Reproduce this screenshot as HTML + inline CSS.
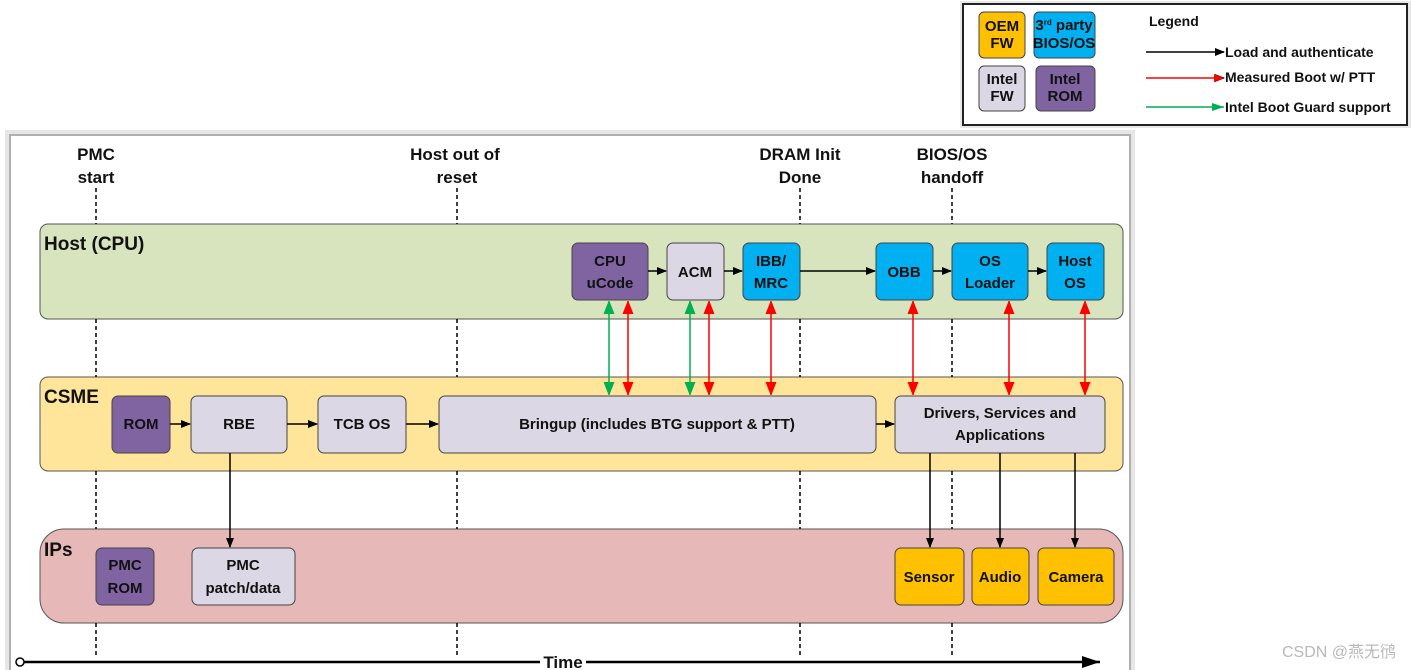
<!DOCTYPE html>
<html><head><meta charset="utf-8"><style>
html,body{margin:0;padding:0;background:#fff;width:1412px;height:670px;overflow:hidden}
svg{display:block}
.b{font-family:"Liberation Sans",sans-serif;font-weight:bold;fill:#111}
.bx{font-family:"Liberation Sans",sans-serif;font-weight:bold;fill:#111;font-size:15px;text-anchor:middle}
</style></head><body>
<svg width="1412" height="670" viewBox="0 0 1412 670" xmlns="http://www.w3.org/2000/svg">
<defs>
<marker id="ak" markerWidth="10" markerHeight="10" refX="9" refY="5" orient="auto" markerUnits="userSpaceOnUse"><path d="M0,1 L10,5 L0,9 z" fill="#000"/></marker>
<marker id="ar" markerWidth="12" markerHeight="14" refX="13" refY="7" orient="auto-start-reverse" markerUnits="userSpaceOnUse"><path d="M0,1.5 L14,7 L0,12.5 z" fill="#ff0000"/></marker>
<marker id="ag" markerWidth="12" markerHeight="14" refX="13" refY="7" orient="auto-start-reverse" markerUnits="userSpaceOnUse"><path d="M0,1.5 L14,7 L0,12.5 z" fill="#00b050"/></marker>
<marker id="at" markerWidth="20" markerHeight="14" refX="18" refY="7" orient="auto" markerUnits="userSpaceOnUse"><path d="M0,1 L18,7 L0,13 z" fill="#000"/></marker>
</defs>
<!-- panel -->
<rect x="5" y="130" width="1130" height="545" fill="#e6e6e6"/>
<rect x="10" y="135" width="1120" height="540" fill="#fff" stroke="#b0b0b0" stroke-width="2"/>
<!-- legend -->
<rect x="960" y="1" width="451" height="127" fill="#e8e8e8"/>
<rect x="963" y="4" width="444" height="121" fill="#fff" stroke="#222" stroke-width="2"/>
<rect x="979" y="12" width="46" height="46" rx="5" fill="#ffc000" stroke="#444"/>
<text class="bx" x="1002" y="31" font-size="12">OEM</text><text class="bx" x="1002" y="48" font-size="12">FW</text>
<rect x="1034" y="12" width="61" height="46" rx="5" fill="#00b0f0" stroke="#444"/>
<text class="bx" x="1064" y="30" font-size="12">3<tspan font-size="8" dy="-5">rd</tspan><tspan dy="5"> party</tspan></text><text class="bx" x="1064" y="48" font-size="12">BIOS/OS</text>
<rect x="979" y="66" width="46" height="45" rx="5" fill="#dcd7e4" stroke="#444"/>
<text class="bx" x="1002" y="84" font-size="12">Intel</text><text class="bx" x="1002" y="101" font-size="12">FW</text>
<rect x="1036" y="66" width="59" height="45" rx="5" fill="#8064a2" stroke="#444"/>
<text class="bx" x="1065" y="84" font-size="12">Intel</text><text class="bx" x="1065" y="101" font-size="12">ROM</text>
<text class="b" x="1149" y="26" font-size="14">Legend</text>
<line x1="1146" y1="52" x2="1224" y2="52" stroke="#000" stroke-width="1.5" marker-end="url(#ak)"/>
<text class="b" x="1225" y="57" font-size="14">Load and  authenticate</text>
<line x1="1146" y1="78" x2="1224" y2="78" stroke="#f00" stroke-width="1.5" marker-end="url(#ak)"/>
<path d="M1214,74 L1224,78 L1214,82 z" fill="#f00"/>
<text class="b" x="1225" y="82" font-size="14">Measured Boot w/ PTT</text>
<line x1="1146" y1="107" x2="1224" y2="107" stroke="#00b050" stroke-width="1.5"/>
<path d="M1212,103 L1224,107 L1212,111 z" fill="#00b050"/>
<text class="b" x="1225" y="112" font-size="14">Intel Boot Guard support</text>
<!-- milestones -->
<g class="b" font-size="17" text-anchor="middle">
<text x="96" y="160">PMC</text><text x="96" y="183">start</text>
<text x="455" y="160">Host out of</text><text x="457" y="183">reset</text>
<text x="800" y="160">DRAM Init</text><text x="800" y="183">Done</text>
<text x="952" y="160">BIOS/OS</text><text x="952" y="183">handoff</text>
</g>
<!-- lanes -->
<rect x="40" y="224" width="1083" height="95" rx="8" fill="#d7e4bd" stroke="#555"/>
<rect x="40" y="377" width="1083" height="94" rx="8" fill="#fee599" stroke="#555"/>
<rect x="40" y="529" width="1083" height="94" rx="24" fill="#e6b9b8" stroke="#555"/>
<!-- dashed -->
<g stroke="#000" stroke-width="1.5" stroke-dasharray="4,3">
<line x1="96" y1="188" x2="96" y2="224"/><line x1="96" y1="319" x2="96" y2="377"/><line x1="96" y1="471" x2="96" y2="529"/><line x1="96" y1="623" x2="96" y2="656"/>
<line x1="457" y1="188" x2="457" y2="224"/><line x1="457" y1="319" x2="457" y2="377"/><line x1="457" y1="471" x2="457" y2="529"/><line x1="457" y1="623" x2="457" y2="656"/>
<line x1="800" y1="188" x2="800" y2="224"/><line x1="800" y1="319" x2="800" y2="377"/><line x1="800" y1="471" x2="800" y2="529"/><line x1="800" y1="623" x2="800" y2="656"/>
<line x1="952" y1="188" x2="952" y2="224"/><line x1="952" y1="319" x2="952" y2="377"/><line x1="952" y1="471" x2="952" y2="529"/><line x1="952" y1="623" x2="952" y2="656"/>
</g>
<g class="b" font-size="19"><text x="44" y="250">Host (CPU)</text><text x="44" y="403">CSME</text><text x="44" y="556">IPs</text></g>
<!-- host boxes -->
<g stroke="#444" stroke-width="1">
<rect x="572" y="243" width="76" height="57" rx="6" fill="#8064a2"/>
<rect x="667" y="243" width="57" height="57" rx="6" fill="#dcd7e4"/>
<rect x="743" y="243" width="57" height="57" rx="6" fill="#00b0f0"/>
<rect x="876" y="243" width="57" height="57" rx="6" fill="#00b0f0"/>
<rect x="952" y="243" width="76" height="57" rx="6" fill="#00b0f0"/>
<rect x="1047" y="243" width="57" height="57" rx="6" fill="#00b0f0"/>
<rect x="112" y="396" width="58" height="57" rx="6" fill="#8064a2"/>
<rect x="191" y="396" width="96" height="57" rx="6" fill="#dcd7e4"/>
<rect x="318" y="396" width="88" height="57" rx="6" fill="#dcd7e4"/>
<rect x="439" y="396" width="437" height="57" rx="6" fill="#dcd7e4"/>
<rect x="895" y="396" width="210" height="57" rx="6" fill="#dcd7e4"/>
<rect x="96" y="548" width="58" height="57" rx="6" fill="#8064a2"/>
<rect x="192" y="548" width="103" height="57" rx="6" fill="#dcd7e4"/>
<rect x="895" y="548" width="69" height="57" rx="6" fill="#ffc000"/>
<rect x="972" y="548" width="57" height="57" rx="6" fill="#ffc000"/>
<rect x="1038" y="548" width="76" height="57" rx="6" fill="#ffc000"/>
</g>
<g class="bx">
<text x="610" y="266">CPU</text><text x="610" y="288">uCode</text>
<text x="695" y="277">ACM</text>
<text x="771" y="266">IBB/</text><text x="771" y="288">MRC</text>
<text x="904" y="277">OBB</text>
<text x="990" y="266">OS</text><text x="990" y="288">Loader</text>
<text x="1075" y="266">Host</text><text x="1075" y="288">OS</text>
<text x="141" y="429">ROM</text><text x="239" y="429">RBE</text><text x="362" y="429">TCB OS</text>
<text x="657" y="429">Bringup (includes BTG support &amp; PTT)</text>
<text x="1000" y="418">Drivers, Services and</text><text x="1000" y="440">Applications</text>
<text x="125" y="570">PMC</text><text x="125" y="593">ROM</text>
<text x="243" y="570">PMC</text><text x="243" y="593">patch/data</text>
<text x="929" y="582">Sensor</text><text x="1000" y="582">Audio</text><text x="1076" y="582">Camera</text>
</g>
<!-- black arrows -->
<g stroke="#000" stroke-width="1.5" marker-end="url(#ak)">
<line x1="648" y1="271" x2="666" y2="271"/><line x1="724" y1="271" x2="742" y2="271"/>
<line x1="800" y1="271" x2="875" y2="271"/><line x1="933" y1="271" x2="951" y2="271"/>
<line x1="1028" y1="271" x2="1046" y2="271"/>
<line x1="170" y1="424" x2="190" y2="424"/><line x1="287" y1="424" x2="317" y2="424"/>
<line x1="406" y1="424" x2="438" y2="424"/><line x1="876" y1="424" x2="894" y2="424"/>
<line x1="230" y1="453" x2="230" y2="547"/><line x1="930" y1="453" x2="930" y2="547"/>
<line x1="1000" y1="453" x2="1000" y2="547"/><line x1="1075" y1="453" x2="1075" y2="547"/>
</g>
<!-- red/green -->
<g stroke-width="1.5">
<line x1="609" y1="301" x2="609" y2="395" stroke="#00b050" marker-start="url(#ag)" marker-end="url(#ag)"/>
<line x1="690" y1="301" x2="690" y2="395" stroke="#00b050" marker-start="url(#ag)" marker-end="url(#ag)"/>
<line x1="628" y1="301" x2="628" y2="395" stroke="#f00" marker-start="url(#ar)" marker-end="url(#ar)"/>
<line x1="709" y1="301" x2="709" y2="395" stroke="#f00" marker-start="url(#ar)" marker-end="url(#ar)"/>
<line x1="771" y1="301" x2="771" y2="395" stroke="#f00" marker-start="url(#ar)" marker-end="url(#ar)"/>
<line x1="913" y1="301" x2="913" y2="395" stroke="#f00" marker-start="url(#ar)" marker-end="url(#ar)"/>
<line x1="1009" y1="301" x2="1009" y2="395" stroke="#f00" marker-start="url(#ar)" marker-end="url(#ar)"/>
<line x1="1085" y1="301" x2="1085" y2="395" stroke="#f00" marker-start="url(#ar)" marker-end="url(#ar)"/>
</g>
<!-- time -->
<line x1="24" y1="662" x2="1100" y2="662" stroke="#000" stroke-width="2.5" marker-end="url(#at)"/>
<circle cx="20" cy="662" r="4" fill="#fff" stroke="#000" stroke-width="1.5"/>
<rect x="540" y="652" width="46" height="18" fill="#fff"/>
<text class="b" x="563" y="668" font-size="17" text-anchor="middle">Time</text>
<text x="1396" y="657" font-family="'Liberation Sans','Noto Sans CJK SC',sans-serif" font-size="16" fill="#b8b8b8" text-anchor="end">CSDN @燕无鸻</text>
</svg>
</body></html>
